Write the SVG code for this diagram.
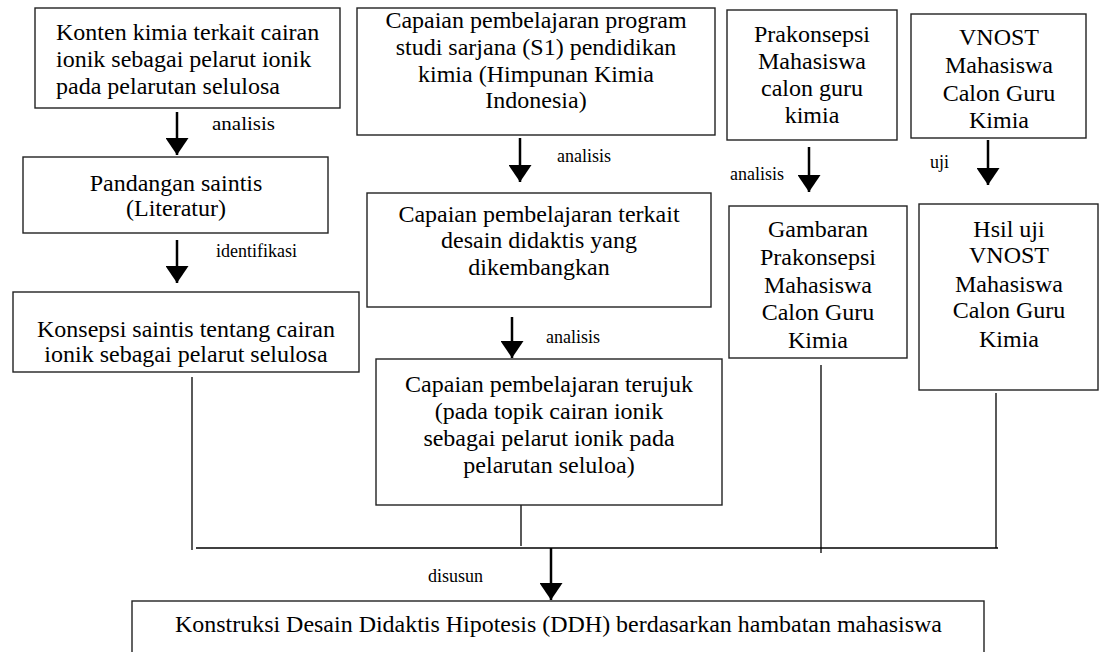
<svg xmlns="http://www.w3.org/2000/svg" width="1103" height="652" viewBox="0 0 1103 652" font-family="'Liberation Serif', 'Times New Roman', Times, 'DejaVu Serif', serif">
<style>
.box{fill:#fff;stroke:#222;stroke-width:1.4}
.t{font-family:'Liberation Serif','Times New Roman',Times,'DejaVu Serif',serif;font-size:24px;fill:#000}
.c{text-anchor:middle}
.lbl{font-family:'Liberation Serif','Times New Roman',Times,'DejaVu Serif',serif;font-size:18px;fill:#000}
.arr{stroke:#000;stroke-width:2.5;fill:none;marker-end:url(#ah)}
.ln{stroke:#000;stroke-width:1.3;fill:none}
</style>
<defs>
<marker id="ah" markerUnits="userSpaceOnUse" viewBox="0 0 17 23" markerWidth="17" markerHeight="23" refX="17" refY="11.5" orient="auto">
<path d="M0,0 L17,11.5 L0,23 z" fill="#000"/>
</marker>
</defs>
<rect width="1103" height="652" fill="#fff"/>

<g id="connectors">
<line class="arr" x1="177" y1="112" x2="177" y2="155"/>
<line class="arr" x1="177" y1="240" x2="177" y2="283"/>
<line class="arr" x1="520" y1="138" x2="520" y2="182"/>
<line class="arr" x1="512" y1="317" x2="512" y2="358"/>
<line class="arr" x1="809" y1="147" x2="809" y2="192"/>
<line class="arr" x1="988" y1="140" x2="988" y2="185"/>
<line class="arr" x1="551" y1="548" x2="551" y2="600"/>
<line class="ln" x1="192" y1="377" x2="192" y2="550"/>
<line class="ln" x1="521" y1="505" x2="521" y2="546"/>
<line class="ln" x1="821" y1="365" x2="821" y2="553"/>
<line class="ln" x1="996" y1="393" x2="996" y2="548"/>
<line class="ln" x1="196" y1="548" x2="998" y2="548"/>
<text class="lbl" x="212" y="130" textLength="63" lengthAdjust="spacingAndGlyphs">analisis</text>
<text class="lbl" x="216" y="257">identifikasi</text>
<text class="lbl" x="557" y="162">analisis</text>
<text class="lbl" x="730" y="180">analisis</text>
<text class="lbl" x="930" y="168">uji</text>
<text class="lbl" x="546" y="343">analisis</text>
<text class="lbl" x="428" y="582">disusun</text>
</g>

<g id="n1">
<rect class="box" x="35" y="8" width="305" height="100"/>
<text class="t" x="56" y="40">Konten kimia terkait cairan</text>
<text class="t" x="56" y="67">ionik sebagai pelarut ionik</text>
<text class="t" x="56" y="94">pada pelarutan selulosa</text>
</g>

<g id="n2">
<rect class="box" x="23" y="157" width="305" height="76"/>
<text class="t c" x="176" y="191">Pandangan saintis</text>
<text class="t c" x="176" y="216">(Literatur)</text>
</g>

<g id="n3">
<rect class="box" x="13" y="292" width="346" height="80"/>
<text class="t c" x="186" y="337">Konsepsi saintis tentang cairan</text>
<text class="t c" x="186" y="362">ionik sebagai pelarut selulosa</text>
</g>

<g id="n4">
<rect class="box" x="357" y="8" width="358" height="127"/>
<text class="t c" x="536" y="28">Capaian pembelajaran program</text>
<text class="t c" x="536" y="55">studi sarjana (S1) pendidikan</text>
<text class="t c" x="536" y="82">kimia (Himpunan Kimia</text>
<text class="t c" x="536" y="108">Indonesia)</text>
</g>

<g id="n5">
<rect class="box" x="367" y="193" width="344" height="114"/>
<text class="t c" x="539" y="222">Capaian pembelajaran terkait</text>
<text class="t c" x="539" y="248">desain didaktis yang</text>
<text class="t c" x="539" y="275">dikembangkan</text>
</g>

<g id="n6">
<rect class="box" x="376" y="359" width="346" height="146"/>
<text class="t c" x="549" y="392">Capaian pembelajaran terujuk</text>
<text class="t c" x="549" y="419">(pada topik cairan ionik</text>
<text class="t c" x="549" y="446">sebagai pelarut ionik pada</text>
<text class="t c" x="549" y="473">pelarutan seluloa)</text>
</g>

<g id="n7">
<rect class="box" x="727" y="10" width="170" height="130"/>
<text class="t c" x="812" y="42">Prakonsepsi</text>
<text class="t c" x="812" y="69">Mahasiswa</text>
<text class="t c" x="812" y="96">calon guru</text>
<text class="t c" x="812" y="123">kimia</text>
</g>

<g id="n8">
<rect class="box" x="911" y="14" width="175" height="124"/>
<text class="t c" x="999" y="45">VNOST</text>
<text class="t c" x="999" y="73">Mahasiswa</text>
<text class="t c" x="999" y="101">Calon Guru</text>
<text class="t c" x="999" y="128">Kimia</text>
</g>

<g id="n9">
<rect class="box" x="729" y="206" width="178" height="152"/>
<text class="t c" x="818" y="237">Gambaran</text>
<text class="t c" x="818" y="265">Prakonsepsi</text>
<text class="t c" x="818" y="293">Mahasiswa</text>
<text class="t c" x="818" y="320">Calon Guru</text>
<text class="t c" x="818" y="348">Kimia</text>
</g>

<g id="n10">
<rect class="box" x="919" y="204" width="179" height="186"/>
<text class="t c" x="1009" y="237">Hsil uji</text>
<text class="t c" x="1009" y="263">VNOST</text>
<text class="t c" x="1009" y="292">Mahasiswa</text>
<text class="t c" x="1009" y="318">Calon Guru</text>
<text class="t c" x="1009" y="347">Kimia</text>
</g>

<g id="n11">
<rect class="box" x="132" y="601" width="852" height="70"/>
<text class="t" x="175" y="632" textLength="767" lengthAdjust="spacingAndGlyphs">Konstruksi Desain Didaktis Hipotesis (DDH) berdasarkan hambatan mahasiswa</text>
</g>
</svg>
